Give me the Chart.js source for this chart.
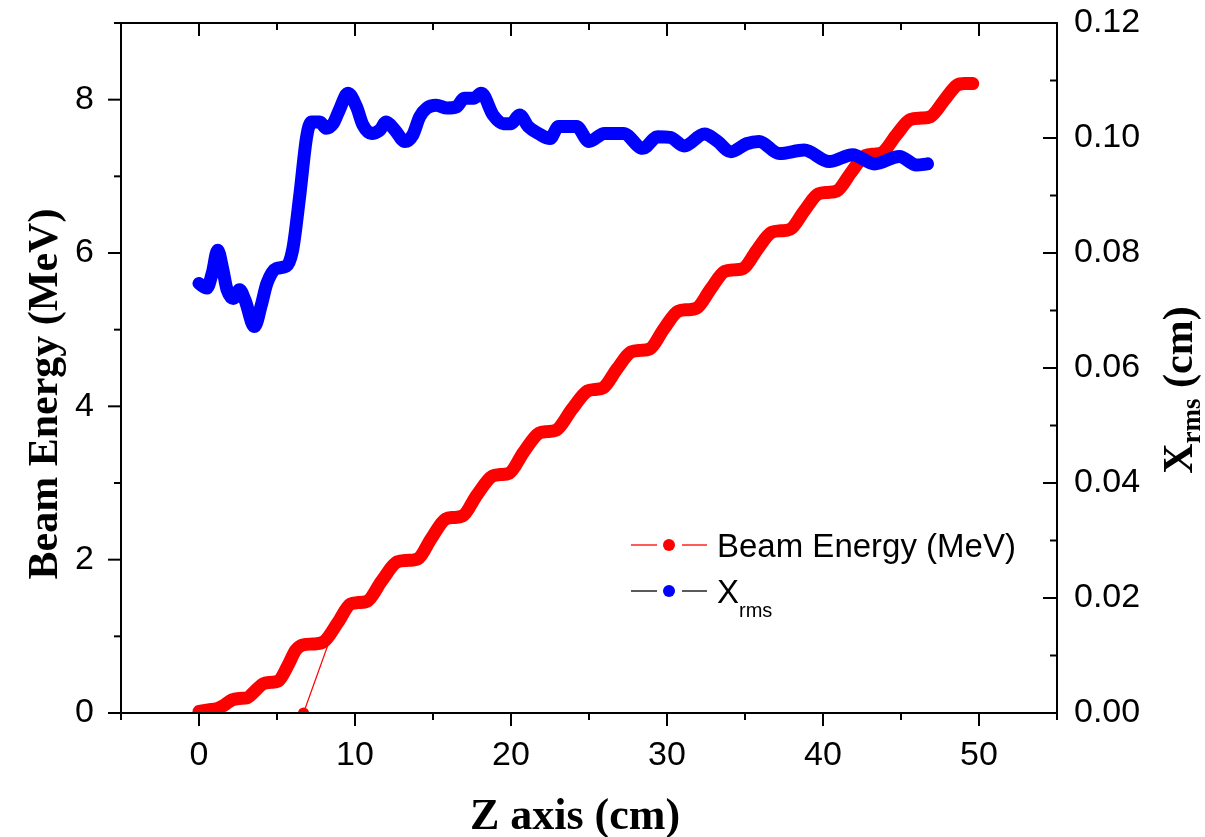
<!DOCTYPE html>
<html>
<head>
<meta charset="utf-8">
<script src="https://cdn.jsdelivr.net/npm/chart.js@4.4.1/dist/chart.umd.min.js"></script>
<style>
  html, body { margin: 0; padding: 0; background: #fff; }
  #wrap { width: 1205px; height: 837px; position: relative; }
</style>
</head>
<body>
<div id="wrap"><canvas id="c"></canvas></div>
<script>
// ---- data ----
const zEnergy = [0.0, 0.6, 1.2, 1.6, 2.1, 2.6, 3.1, 3.6, 4.1, 4.6, 5.1, 5.7, 6.2, 6.7, 7.3, 8.0,
  8.9, 9.7, 10.2, 10.8, 11.7, 12.7, 13.3, 14.0, 14.9, 15.8, 16.3, 16.9, 17.8, 18.8, 19.3, 19.9,
  20.8, 21.8, 22.3, 22.9, 23.9, 24.9, 25.4, 25.9, 26.8, 27.7, 28.3, 28.9, 29.8, 30.7, 31.3, 31.9,
  32.8, 33.7, 34.3, 34.9, 35.8, 36.7, 37.3, 37.9, 38.8, 39.7, 40.3, 40.9, 41.8, 42.7, 43.3, 43.8,
  44.7, 45.6, 46.3, 46.9, 47.8, 48.6, 49.1, 49.6];
const beamEnergy = [0.02, 0.04, 0.06, 0.10, 0.17, 0.19, 0.20, 0.29, 0.38, 0.40, 0.42, 0.62, 0.82, 0.89, 0.90, 0.93,
  1.18, 1.42, 1.44, 1.46, 1.72, 1.97, 1.99, 2.01, 2.28, 2.53, 2.55, 2.57, 2.84, 3.09, 3.11, 3.13,
  3.40, 3.65, 3.67, 3.69, 3.96, 4.20, 4.22, 4.24, 4.49, 4.71, 4.73, 4.75, 5.01, 5.24, 5.26, 5.28,
  5.53, 5.76, 5.78, 5.80, 6.05, 6.27, 6.29, 6.31, 6.55, 6.77, 6.79, 6.81, 7.05, 7.27, 7.29, 7.31,
  7.54, 7.74, 7.76, 7.78, 8.00, 8.19, 8.21, 8.21];
// stray point of the energy series (drawn with the thin connecting line)
const zEnergyStray = [6.7, 8.5];
const beamEnergyStray = [0.0, 1.02];

const zXrms = [0.0, 0.5, 0.85, 1.2, 1.5, 1.8, 2.2, 2.6, 2.95, 3.55, 4.0, 4.35, 4.95, 5.6, 6.0, 6.45,
  6.9, 7.2, 7.75, 8.15, 8.6, 9.0, 9.55, 10.1, 10.5, 11.05, 11.6, 12.0, 12.55, 13.2, 13.7, 14.15,
  14.6, 15.2, 15.9, 16.5, 17.0, 17.6, 18.1, 18.85, 19.5, 20.0, 20.55, 21.1, 21.75, 22.5, 23.05, 24.2,
  25.0, 26.0, 27.2, 28.45, 29.4, 30.2, 31.1, 32.4, 33.2, 34.1, 35.1, 35.9, 37.2, 38.8, 40.4, 41.9,
  43.3, 44.9, 46.0, 46.7];
const xrms = [0.0747, 0.0739, 0.0765, 0.0805, 0.0775, 0.0736, 0.0721, 0.0736, 0.0718, 0.0672, 0.0710, 0.0747, 0.0773, 0.0777, 0.0805, 0.0898,
  0.1002, 0.1028, 0.1028, 0.1017, 0.1025, 0.1049, 0.1078, 0.1054, 0.1023, 0.1008, 0.1014, 0.1028, 0.1014, 0.0994, 0.1005, 0.1037,
  0.1052, 0.1057, 0.1052, 0.1054, 0.1069, 0.1069, 0.1078, 0.1040, 0.1025, 0.1025, 0.1040, 0.1020, 0.1008, 0.0999, 0.1020, 0.1020,
  0.0994, 0.1008, 0.1008, 0.0982, 0.1002, 0.1001, 0.0986, 0.1007, 0.0995, 0.0976, 0.0990, 0.0994, 0.0973, 0.0979, 0.0959, 0.0971,
  0.0955, 0.0968, 0.0953, 0.0955];

// ---- tick values ----
const zMajorTicks = [0, 10, 20, 30, 40, 50];
const zMinorTicks = [-5, 5, 15, 25, 35, 45, 55];
const energyMajorTicks = [0, 2, 4, 6, 8];
const energyMinorTicks = [1, 3, 5, 7, 9];
const xrmsMajorTicks = [0, 0.02, 0.04, 0.06, 0.08, 0.10, 0.12];
const xrmsMinorTicks = [0.01, 0.03, 0.05, 0.07, 0.09, 0.11];

const toPts = (xs, ys) => xs.map((v, i) => ({ x: v, y: ys[i] }));
const SANS = '"Liberation Sans", Arial, sans-serif';
const SERIF = '"Liberation Serif", "Times New Roman", serif';

const framePlugin = {
  id: 'frame',
  afterDraw(chart) {
    const { ctx, chartArea: a, scales } = chart;
    const sx = scales.x, sl = scales.yE, sr = scales.yX;
    ctx.save();
    ctx.strokeStyle = '#000';
    ctx.lineWidth = 2;
    const seg = (x1, y1, x2, y2) => { ctx.beginPath(); ctx.moveTo(x1, y1); ctx.lineTo(x2, y2); ctx.stroke(); };
    // frame
    ctx.strokeRect(a.left, a.top, a.right - a.left, a.bottom - a.top);
    // bottom (outward) and top (inward) ticks
    zMajorTicks.forEach(v => { const p = sx.getPixelForValue(v); seg(p, a.bottom, p, a.bottom + 13); seg(p, a.top, p, a.top + 13); });
    zMinorTicks.forEach(v => { const p = sx.getPixelForValue(v); seg(p, a.bottom, p, a.bottom + 7); seg(p, a.top, p, a.top + 7); });
    // left (outward)
    energyMajorTicks.forEach(v => { const p = sl.getPixelForValue(v); seg(a.left - 13, p, a.left, p); });
    energyMinorTicks.forEach(v => { const p = sl.getPixelForValue(v); seg(a.left - 7, p, a.left, p); });
    // right (inward)
    xrmsMajorTicks.forEach(v => { const p = sr.getPixelForValue(v); seg(a.right - 14, p, a.right, p); });
    xrmsMinorTicks.forEach(v => { const p = sr.getPixelForValue(v); seg(a.right - 7, p, a.right, p); });

    // axis titles
    ctx.fillStyle = '#000';
    ctx.textBaseline = 'alphabetic';
    ctx.font = 'bold 44px ' + SERIF;
    ctx.textAlign = 'center';
    ctx.fillText('Z axis (cm)', 575, 829);
    ctx.save();
    ctx.font = 'bold 42px ' + SERIF;
    ctx.translate(57, 394);
    ctx.rotate(-Math.PI / 2);
    ctx.fillText('Beam Energy (MeV)', 0, 0);
    ctx.restore();
    // right title with subscript
    ctx.save();
    ctx.translate(1192, 390);
    ctx.rotate(-Math.PI / 2);
    ctx.textAlign = 'left';
    const big = 'bold 42px ' + SERIF, small = 'bold 27px ' + SERIF;
    ctx.font = big; const wX = ctx.measureText('X').width;
    ctx.font = small; const wS = ctx.measureText('rms').width;
    ctx.font = big; const wC = ctx.measureText(' (cm)').width;
    let x0 = -(wX + wS + wC) / 2;
    ctx.font = big; ctx.fillText('X', x0, 0);
    ctx.font = small; ctx.fillText('rms', x0 + wX, 8);
    ctx.font = big; ctx.fillText(' (cm)', x0 + wX + wS, 0);
    ctx.restore();

    // legend
    const drawEntry = (y, lineColor, dotColor, label, sub) => {
      ctx.strokeStyle = lineColor; ctx.lineWidth = 1.3;
      seg(631, y, 657, y); seg(682, y, 707, y);
      ctx.fillStyle = dotColor;
      ctx.beginPath(); ctx.arc(669, y, 6, 0, Math.PI * 2); ctx.fill();
      ctx.fillStyle = '#000'; ctx.textAlign = 'left';
      ctx.font = '33px ' + SANS;
      ctx.fillText(label, 717, y + 12);
      if (sub) {
        const w = ctx.measureText(label).width;
        ctx.font = '20px ' + SANS;
        ctx.fillText(sub, 717 + w, y + 26);
      }
    };
    drawEntry(545, '#ff0000', '#ff0000', 'Beam Energy (MeV)');
    drawEntry(591, '#000000', '#0000ff', 'X', 'rms');
    ctx.restore();
  }
};

new Chart(document.getElementById('c'), {
  type: 'line',
  data: {
    datasets: [
      { label: 'X_rms', data: toPts(zXrms, xrms), yAxisID: 'yX', order: 1,
        borderColor: '#0000ff', borderWidth: 13, pointRadius: 0, cubicInterpolationMode: 'monotone',
        borderCapStyle: 'round', borderJoinStyle: 'round', fill: false },
      { label: 'Beam Energy (MeV)', data: toPts(zEnergy, beamEnergy), yAxisID: 'yE', order: 2,
        borderColor: '#ff0000', borderWidth: 13, pointRadius: 0, cubicInterpolationMode: 'monotone',
        borderCapStyle: 'round', borderJoinStyle: 'round', fill: false, clip: 0 },
      { label: 'stray', data: toPts(zEnergyStray, beamEnergyStray), yAxisID: 'yE', order: 3,
        borderColor: '#ff0000', borderWidth: 1.2, pointRadius: [5.5, 0], pointBackgroundColor: '#ff0000',
        pointBorderWidth: 0, fill: false, clip: 0 }
    ]
  },
  options: {
    responsive: true,
    maintainAspectRatio: false,
    animation: false,
    layout: { padding: { top: 23, left: 0, right: 0, bottom: 0 } },
    plugins: { legend: { display: false }, tooltip: { enabled: false }, title: { display: false } },
    scales: {
      x: {
        type: 'linear', position: 'bottom', min: -5, max: 55,
        grid: { display: false }, border: { display: false },
        afterBuildTicks: s => { s.ticks = zMajorTicks.map(v => ({ value: v })); },
        afterFit: s => { s.height = 124; s.paddingLeft = 0; s.paddingRight = 0; },
        ticks: { color: '#000', font: { family: SANS, size: 34 }, padding: 14, maxRotation: 0,
          callback: v => String(v) }
      },
      yE: {
        type: 'linear', position: 'left', min: 0, max: 9,
        grid: { display: false }, border: { display: false },
        afterBuildTicks: s => { s.ticks = energyMajorTicks.map(v => ({ value: v })); },
        afterFit: s => { s.width = 121; s.paddingTop = 0; s.paddingBottom = 0; },
        ticks: { color: '#000', font: { family: SANS, size: 34 }, padding: 19, callback: v => String(v) }
      },
      yX: {
        type: 'linear', position: 'right', min: 0, max: 0.12,
        grid: { display: false }, border: { display: false },
        afterBuildTicks: s => { s.ticks = xrmsMajorTicks.map(v => ({ value: v })); },
        afterFit: s => { s.width = 148; s.paddingTop = 0; s.paddingBottom = 0; },
        ticks: { color: '#000', font: { family: SANS, size: 34 }, padding: 9, callback: v => v.toFixed(2) }
      }
    }
  },
  plugins: [framePlugin]
});
</script>
</body>
</html>
